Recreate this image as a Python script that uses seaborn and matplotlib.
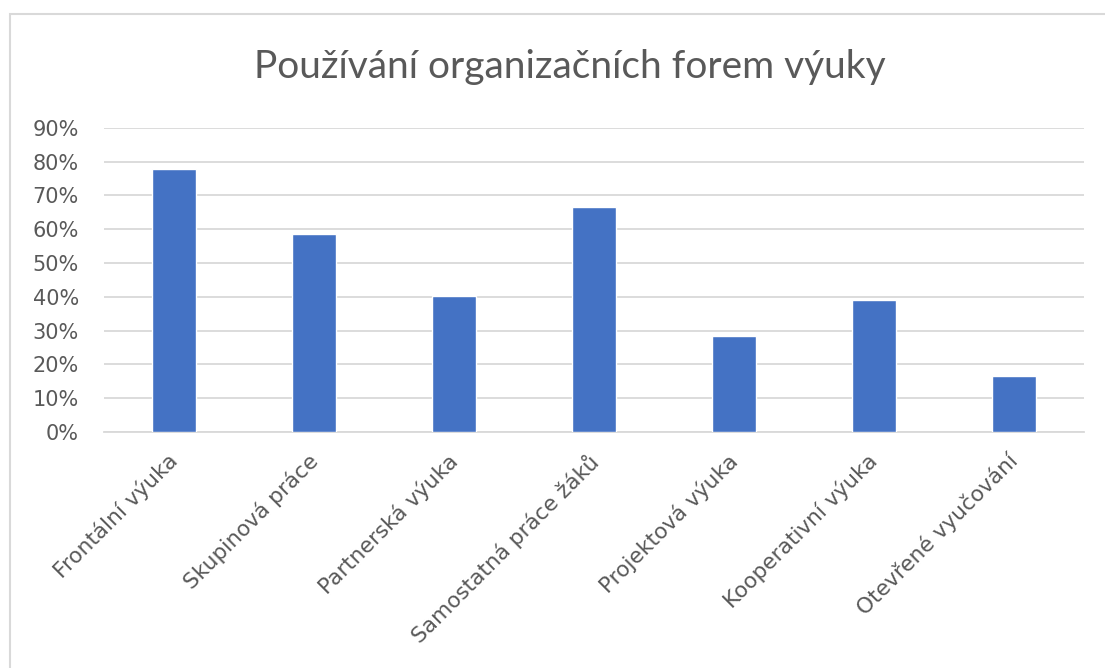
import matplotlib
matplotlib.use("Agg")
import matplotlib.pyplot as plt
import matplotlib.patches as mpatches
from matplotlib.ticker import PercentFormatter
from matplotlib.transforms import ScaledTranslation
import seaborn as sns
import pandas as pd

categories = ["Frontální výuka", "Skupinová práce", "Partnerská výuka",
              "Samostatná práce žáků", "Projektová výuka", "Kooperativní výuka",
              "Otevřené vyučování"]
values = [77.8, 58.6, 40.2, 66.4, 28.4, 38.9, 16.7]
yticks = [0, 10, 20, 30, 40, 50, 60, 70, 80, 90]
title = "Používání organizačních forem výuky"

sns.set_theme(style="white")
plt.rcParams['font.family'] = ['DejaVu Sans']

df = pd.DataFrame({"kat": categories, "val": values})

W, H = 1105, 668
fig = plt.figure(figsize=(W / 100, H / 100), dpi=100)
ax = fig.add_axes([104 / W, 1 - 432 / H, (1084 - 104) / W, (432 - 127.7) / H])

sns.barplot(data=df, x="kat", y="val", color="#4472C4", width=0.314,
            saturation=1, ax=ax, zorder=3)
ax.set_ylim(0, 90)
ax.set_xlim(-0.5, len(categories) - 0.5)
ax.set_yticks(yticks)
ax.yaxis.set_major_formatter(PercentFormatter(decimals=0))
ax.grid(axis="y", color="#D9D9D9", linewidth=1.3, zorder=0)
ax.grid(axis="x", visible=False)
for s in ["top", "right", "left"]:
    ax.spines[s].set_visible(False)
ax.spines["bottom"].set_color("#D9D9D9")
ax.spines["bottom"].set_linewidth(1.3)
ax.set_xlabel("")
ax.set_ylabel("")
ax.tick_params(axis="y", length=0, pad=18, labelsize=15, labelcolor="#595959")
ax.tick_params(axis="x", length=0, pad=13, labelsize=15.6, labelcolor="#595959")
shift = ScaledTranslation(-7 / 100, 0, fig.dpi_scale_trans)
for lab in ax.get_xticklabels():
    lab.set_rotation(45)
    lab.set_ha("right")
    lab.set_rotation_mode("anchor")
    lab.set_transform(lab.get_transform() + shift)

fig.text(570 / W, 1 - 67 / H, title, ha="center", va="center",
         fontsize=28, color="#595959", family=['Lato', 'DejaVu Sans'])

border = mpatches.Rectangle((10 / W, -0.1), 1.2, 1 - 14 / H + 0.1,
                            transform=fig.transFigure, fill=False,
                            edgecolor="#D9D9D9", linewidth=1.5)
fig.patches.append(border)

fig.savefig("out.png", dpi=100)
